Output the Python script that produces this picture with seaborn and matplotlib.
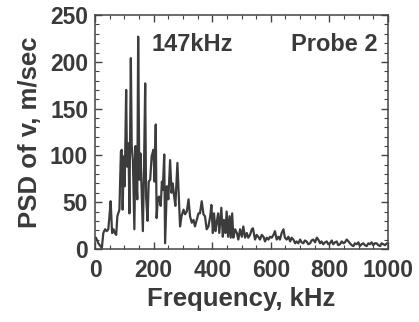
import matplotlib
matplotlib.use("Agg")
import matplotlib.pyplot as plt
from matplotlib.ticker import MultipleLocator
import seaborn as sns
import pandas as pd

# DATOS

freq_khz = [
    3, 11, 23, 28, 34, 40, 45, 49, 53, 58, 63, 67, 72, 76, 83, 88, 91, 94, 98,
    101, 106, 109, 114, 117, 122, 125, 129, 134, 138, 141, 144, 147, 151, 155,
    163, 167, 171, 174, 179, 183, 188, 193, 199, 203, 207, 210, 214, 218, 224,
    228, 231, 236, 239, 245, 250, 256, 261, 265, 270, 274, 281, 286, 290, 295,
    302, 307, 313, 319, 324, 330, 336, 341, 347, 353, 358, 364, 370, 375, 381,
    387, 393, 397, 402, 406, 411, 415, 420, 424, 431, 436, 440, 445, 449, 454,
    459, 463, 468, 472, 478, 484, 489, 495, 501, 506, 512, 518, 523, 529, 535,
    539, 546, 552, 557, 563, 569, 575, 580, 586, 592, 597, 603, 609, 614, 620,
    626, 631, 637, 643, 648, 654, 660, 666, 671, 677, 683, 688, 694, 700, 705,
    711, 716, 722, 728, 734, 739, 745, 751, 757, 762, 768, 773, 779, 785, 791,
    796, 802, 808, 813, 819, 825, 830, 836, 842, 848, 853, 859, 865, 870, 876,
    882, 887, 893, 899, 904, 910, 916, 921, 927, 933, 938, 944, 950, 955, 961,
    967, 973, 978, 984, 990, 996,
]
psd = [
    12, 6, 1, 17, 21, 19, 21, 35, 51, 17, 21, 17, 15, 35, 42, 104, 106, 42, 99,
    67, 170, 88, 113, 38, 204, 110, 95, 21, 110, 74, 53, 227, 74, 102,
    19, 88, 177, 56, 30, 72, 74, 99, 106, 72, 133, 33, 53, 56, 46,
    72, 63, 101, 6, 67, 53, 95, 60, 70, 56, 46, 92, 53, 24, 35,
    42, 37, 40, 53, 35, 28, 31, 24, 31, 38, 38, 51, 37, 35, 21,
    24, 35, 47, 17, 38, 19, 28, 38, 17, 44, 13, 31, 17, 40, 13,
    35, 12, 38, 12, 21, 17, 10, 21, 13, 24, 12, 17, 12, 15, 21,
    22, 10, 15, 13, 10, 15, 13, 8, 12, 10, 13, 12, 15, 19, 10,
    13, 10, 17, 21, 12, 10, 13, 8, 12, 10, 6, 8, 6, 10, 7,
    6, 9, 8, 5, 6, 9, 10, 7, 12, 10, 6, 8, 5, 7, 8,
    5, 6, 9, 5, 7, 8, 4, 5, 8, 6, 7, 10, 8, 6, 4,
    3, 6, 5, 7, 3, 5, 6, 4, 3, 6, 5, 7, 4, 6, 6,
    4, 3, 6, 5, 4, 6,
]

df = pd.DataFrame({"frecuencia": freq_khz, "psd": psd})

# ESTILO

sns.set_style("ticks")
plt.rcParams["font.family"] = ["Liberation Sans", "DejaVu Sans"]
plt.rcParams["font.weight"] = "bold"

gris = "#3a3a3a"

fig = plt.figure(figsize=(4.19, 3.22), dpi=100)
ax = fig.add_axes([0.227, 0.227, 0.699, 0.726])

sns.lineplot(data=df, x="frecuencia", y="psd", ax=ax,
             color="#3c3c3c", linewidth=1.6)

ax.set_xlim(0, 1000)
ax.set_ylim(0, 250)
ax.xaxis.set_major_locator(MultipleLocator(200))
ax.xaxis.set_minor_locator(MultipleLocator(50))
ax.yaxis.set_major_locator(MultipleLocator(50))
ax.yaxis.set_minor_locator(MultipleLocator(10))

ax.tick_params(which="both", direction="in", top=True, right=True,
               colors="#444444", labelcolor=gris, labelsize=16.5)
ax.tick_params(axis="x", which="both", pad=7)
ax.tick_params(axis="y", which="both", pad=5)
ax.tick_params(which="major", length=5, width=1)
ax.tick_params(which="minor", length=3, width=0.8)
for s in ax.spines.values():
    s.set_color("#444444")
    s.set_linewidth(1.1)

ax.set_xlabel("Frequency, kHz", fontsize=18.5, fontweight="bold",
              color=gris, labelpad=4)
ax.set_ylabel("PSD of v, m/sec", fontsize=18.5, fontweight="bold",
              color=gris, labelpad=6)

ax.text(191, 219, "147kHz", fontsize=17, fontweight="bold", color=gris,
        ha="left", va="center")
ax.text(966, 219, "Probe 2", fontsize=17, fontweight="bold", color=gris,
        ha="right", va="center")

plt.savefig("out.png", dpi=100)
